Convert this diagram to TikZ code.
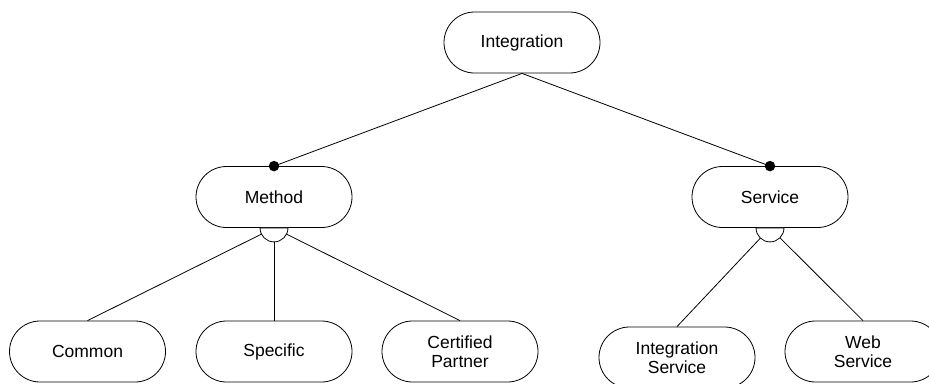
\documentclass[tikz,border=0pt]{standalone}
\usepackage{fontspec}
\setmainfont{Liberation Sans}
\begin{document}
\begin{tikzpicture}[x=1pt,y=1pt,
  feature/.style={draw, line width=0.8pt, fill=white, rounded corners=30.5pt,
    minimum width=156pt, minimum height=61pt, align=center, inner sep=0pt,
    font=\fontsize{17.5}{19.5}\selectfont},
  link/.style={line width=0.8pt},
  mandatory/.style={fill=black, circle, inner sep=0pt, minimum size=10.5pt}]
\useasboundingbox (0,0) rectangle (929,-383);
\clip (0,0) rectangle (929,-383);

\node[feature] (int) at (522,-42.5) {Integration};
\node[feature] (meth) at (274,-197) {Method};
\node[feature] (serv) at (770,-197) {Service};
\node[feature] (common) at (87.5,-351.5) {Common};
\node[feature] (spec) at (274,-351.5) {Specific};
\node[feature] (cert) at (460,-351.5) {Certified\\Partner};
\node[feature] (isvc) at (677,-357.5) {Integration\\Service};
\node[feature] (wsvc) at (863,-351.5) {Web\\Service};

% mandatory sub-features
\draw[link] (int.south) -- (meth.north);
\draw[link] (int.south) -- (serv.north);
\node[mandatory] at (meth.north) {};
\node[mandatory] at (serv.north) {};

% alternative groups
\draw[link] (meth.south) -- (common.north);
\draw[link] (meth.south) -- (spec.north);
\draw[link] (meth.south) -- (cert.north);
\draw[link] (serv.south) -- (isvc.north);
\draw[link] (serv.south) -- (wsvc.north);
\filldraw[link, fill=white] (meth.south) ++(-14,0) arc[start angle=180, end angle=360, radius=14pt] -- cycle;
\filldraw[link, fill=white] (serv.south) ++(-14,0) arc[start angle=180, end angle=360, radius=14pt] -- cycle;
\end{tikzpicture}
\end{document}
